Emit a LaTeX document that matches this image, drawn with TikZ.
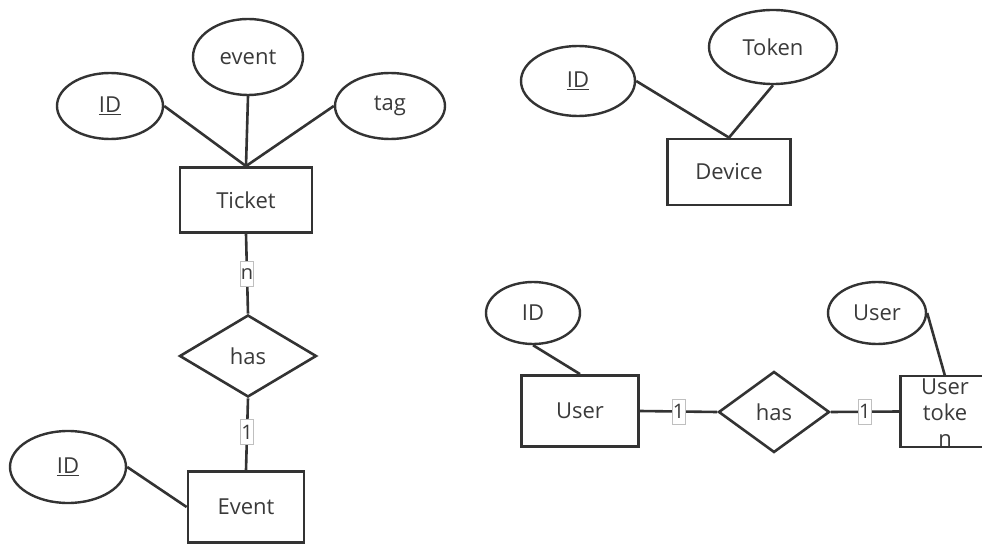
\documentclass[tikz,border=0pt]{standalone}
\usepackage{fontspec}
\setmainfont{Open Sans}
\usetikzlibrary{shapes.geometric}
\definecolor{ink}{HTML}{333333}
\definecolor{txt}{HTML}{3A3A3A}
\begin{document}
\begin{tikzpicture}[x=1pt,y=-1pt,
  every node/.style={text=txt,font=\fontsize{22}{26}\selectfont},
  attr/.style={ellipse,draw=ink,line width=2.4pt,inner sep=0pt},
  ent/.style={rectangle,draw=ink,line width=2.8pt,inner sep=0pt},
  rel/.style={diamond,draw=ink,line width=2.6pt,inner sep=0pt},
  conn/.style={draw=ink,line width=2.6pt},
  card/.style={fill=white,draw=black!25,line width=0.7pt,inner sep=0.6pt,
    font=\fontsize{20}{22}\selectfont,minimum height=25pt}]
\useasboundingbox (0,0) rectangle (982,545);
\begin{scope}
\clip (0,0) rectangle (982,545);
% Ticket / Event
\node[attr,minimum width=106pt,minimum height=66pt] (tid) at (110,106) {\underline{ID}};
\node[attr,minimum width=110pt,minimum height=76pt] (tev) at (248,57) {event};
\node[attr,minimum width=110pt,minimum height=66pt] (ttag) at (390,106) {tag};
\node[ent,minimum width=132pt,minimum height=65pt] (ticket) at (246,200) {Ticket};
\node[rel,minimum width=137pt,minimum height=82pt] (has1) at (248,356) {has};
\node[ent,minimum width=116pt,minimum height=71pt] (event) at (246,507) {Event};
\node[attr,minimum width=116pt,minimum height=72pt] (eid) at (68,467) {\underline{ID}};
\draw[conn] (tid.east) -- (ticket.north);
\draw[conn] (tev.south) -- (ticket.north);
\draw[conn] (ttag.west) -- (ticket.north);
\draw[conn] (ticket.south) -- node[card] {n} (has1.north);
\draw[conn] (has1.south) -- node[card,pos=0.47] {1} (event.north);
\draw[conn] (eid.east) -- (event.west);
% Device
\node[attr,minimum width=114pt,minimum height=70pt] (did) at (578,81) {\underline{ID}};
\node[attr,minimum width=128pt,minimum height=74pt] (dtok) at (773,47) {Token};
\node[ent,minimum width=123pt,minimum height=66pt] (device) at (729,172) {Device};
\draw[conn] (did.east) -- (device.north);
\draw[conn] (dtok.south) -- (device.north);
% User
\node[attr,minimum width=94pt,minimum height=62pt] (uid) at (533,313) {ID};
\node[ent,minimum width=117pt,minimum height=71pt] (user) at (580,411) {User};
\node[rel,minimum width=111pt,minimum height=81pt] (has2) at (774,412) {has};
\node[ent,minimum width=130pt,minimum height=71pt,anchor=west] (utok) at (899,411.5) {};
\node[align=center,inner sep=0pt,font=\fontsize{22}{26}\selectfont] (utoktext) at (945,413) {User\\toke\\n};
\node[attr,minimum width=98pt,minimum height=62pt] (uattr) at (877,313) {User};
\coordinate (utoktop) at (945,376);
\draw[conn] (uid.south) -- (user.north);
\draw[conn] (user.east) -- node[card] {1} (has2.west);
\draw[conn] (has2.east) -- node[card] {1} (utok.west);
\draw[conn] (uattr.east) -- (utoktop);
\end{scope}
\end{tikzpicture}
\end{document}
